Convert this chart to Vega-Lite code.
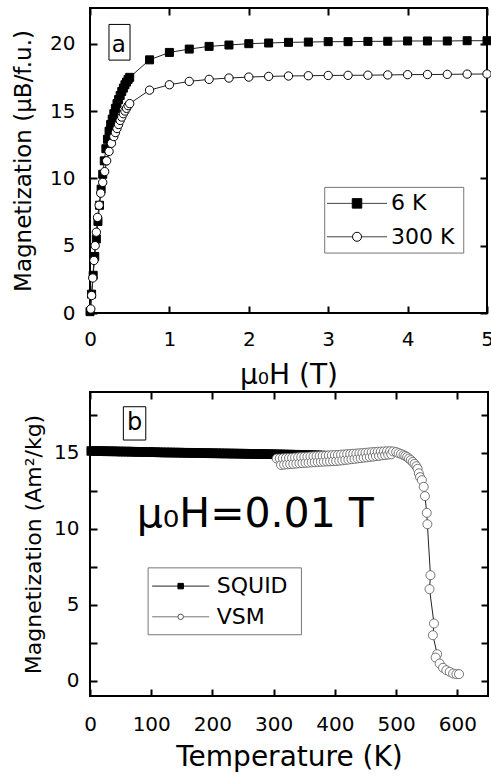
{
"$schema": "https://vega.github.io/schema/vega-lite/v6.json",
"padding": {"left": 11, "top": 7, "right": 0, "bottom": 0},
"spacing": 1,
"config": {
  "font": "DejaVu Sans",
  "view": {"stroke": "black", "strokeWidth": 2},
  "axis": {"labelColor": "black", "titleColor": "black", "labelFont": "DejaVu Sans", "titleFont": "DejaVu Sans", "titleFontWeight": "normal", "labelOverlap": false, "labelFlush": false}
},
"datasets": {
  "top": [
    {"series":"6 K","H":0.0,"M":0.1},{"series":"6 K","H":0.02,"M":1.4},{"series":"6 K","H":0.04,"M":2.8},{"series":"6 K","H":0.06,"M":4.2},{"series":"6 K","H":0.08,"M":5.5},{"series":"6 K","H":0.10,"M":6.8},{"series":"6 K","H":0.12,"M":8.0},{"series":"6 K","H":0.14,"M":9.2},{"series":"6 K","H":0.16,"M":10.3},{"series":"6 K","H":0.18,"M":11.3},{"series":"6 K","H":0.20,"M":12.2},{"series":"6 K","H":0.22,"M":12.9},{"series":"6 K","H":0.24,"M":13.5},{"series":"6 K","H":0.26,"M":14.0},{"series":"6 K","H":0.28,"M":14.4},{"series":"6 K","H":0.30,"M":14.8},{"series":"6 K","H":0.32,"M":15.2},{"series":"6 K","H":0.34,"M":15.55},{"series":"6 K","H":0.36,"M":15.85},{"series":"6 K","H":0.38,"M":16.15},{"series":"6 K","H":0.40,"M":16.45},{"series":"6 K","H":0.42,"M":16.7},{"series":"6 K","H":0.44,"M":16.95},{"series":"6 K","H":0.46,"M":17.15},{"series":"6 K","H":0.48,"M":17.35},{"series":"6 K","H":0.50,"M":17.5},{"series":"6 K","H":0.75,"M":18.8},{"series":"6 K","H":1.0,"M":19.35},{"series":"6 K","H":1.25,"M":19.6},{"series":"6 K","H":1.5,"M":19.8},{"series":"6 K","H":1.75,"M":19.9},{"series":"6 K","H":2.0,"M":20.0},{"series":"6 K","H":2.25,"M":20.05},{"series":"6 K","H":2.5,"M":20.1},{"series":"6 K","H":2.75,"M":20.12},{"series":"6 K","H":3.0,"M":20.15},{"series":"6 K","H":3.25,"M":20.15},{"series":"6 K","H":3.5,"M":20.17},{"series":"6 K","H":3.75,"M":20.18},{"series":"6 K","H":4.0,"M":20.2},{"series":"6 K","H":4.25,"M":20.2},{"series":"6 K","H":4.5,"M":20.2},{"series":"6 K","H":4.75,"M":20.22},{"series":"6 K","H":5.0,"M":20.22},
    {"series":"300 K","H":0.01,"M":0.3},{"series":"300 K","H":0.02,"M":1.3},{"series":"300 K","H":0.035,"M":2.6},{"series":"300 K","H":0.05,"M":3.9},{"series":"300 K","H":0.065,"M":5.0},{"series":"300 K","H":0.08,"M":6.0},{"series":"300 K","H":0.095,"M":7.1},{"series":"300 K","H":0.115,"M":8.0},{"series":"300 K","H":0.135,"M":8.9},{"series":"300 K","H":0.16,"M":9.7},{"series":"300 K","H":0.185,"M":10.5},{"series":"300 K","H":0.21,"M":11.3},{"series":"300 K","H":0.24,"M":12.0},{"series":"300 K","H":0.27,"M":12.6},{"series":"300 K","H":0.30,"M":13.1},{"series":"300 K","H":0.32,"M":13.4},{"series":"300 K","H":0.34,"M":13.7},{"series":"300 K","H":0.36,"M":14.0},{"series":"300 K","H":0.38,"M":14.3},{"series":"300 K","H":0.40,"M":14.55},{"series":"300 K","H":0.42,"M":14.8},{"series":"300 K","H":0.44,"M":15.0},{"series":"300 K","H":0.46,"M":15.2},{"series":"300 K","H":0.48,"M":15.4},{"series":"300 K","H":0.50,"M":15.55},{"series":"300 K","H":0.75,"M":16.55},{"series":"300 K","H":1.0,"M":16.95},{"series":"300 K","H":1.25,"M":17.2},{"series":"300 K","H":1.5,"M":17.35},{"series":"300 K","H":1.75,"M":17.45},{"series":"300 K","H":2.0,"M":17.52},{"series":"300 K","H":2.25,"M":17.57},{"series":"300 K","H":2.5,"M":17.6},{"series":"300 K","H":2.75,"M":17.62},{"series":"300 K","H":3.0,"M":17.64},{"series":"300 K","H":3.25,"M":17.65},{"series":"300 K","H":3.5,"M":17.66},{"series":"300 K","H":3.75,"M":17.68},{"series":"300 K","H":4.0,"M":17.7},{"series":"300 K","H":4.25,"M":17.71},{"series":"300 K","H":4.5,"M":17.72},{"series":"300 K","H":4.75,"M":17.74},{"series":"300 K","H":5.0,"M":17.75}
  ],
  "bot": [
    {"series":"SQUID","T":2,"M":15.12},{"series":"SQUID","T":7,"M":15.12},{"series":"SQUID","T":12,"M":15.11},{"series":"SQUID","T":17,"M":15.11},{"series":"SQUID","T":22,"M":15.11},{"series":"SQUID","T":27,"M":15.10},{"series":"SQUID","T":32,"M":15.10},{"series":"SQUID","T":37,"M":15.10},{"series":"SQUID","T":42,"M":15.09},{"series":"SQUID","T":47,"M":15.09},{"series":"SQUID","T":52,"M":15.08},{"series":"SQUID","T":57,"M":15.08},{"series":"SQUID","T":62,"M":15.08},{"series":"SQUID","T":67,"M":15.07},{"series":"SQUID","T":72,"M":15.07},{"series":"SQUID","T":77,"M":15.06},{"series":"SQUID","T":82,"M":15.06},{"series":"SQUID","T":87,"M":15.06},{"series":"SQUID","T":92,"M":15.05},{"series":"SQUID","T":97,"M":15.05},{"series":"SQUID","T":102,"M":15.04},{"series":"SQUID","T":107,"M":15.04},{"series":"SQUID","T":112,"M":15.03},{"series":"SQUID","T":117,"M":15.03},{"series":"SQUID","T":122,"M":15.02},{"series":"SQUID","T":127,"M":15.02},{"series":"SQUID","T":132,"M":15.02},{"series":"SQUID","T":137,"M":15.01},{"series":"SQUID","T":142,"M":15.01},{"series":"SQUID","T":147,"M":15.01},{"series":"SQUID","T":152,"M":15.00},{"series":"SQUID","T":157,"M":15.00},{"series":"SQUID","T":162,"M":15.00},{"series":"SQUID","T":167,"M":14.99},{"series":"SQUID","T":172,"M":14.99},{"series":"SQUID","T":177,"M":14.99},{"series":"SQUID","T":182,"M":14.98},{"series":"SQUID","T":187,"M":14.98},{"series":"SQUID","T":192,"M":14.98},{"series":"SQUID","T":197,"M":14.97},{"series":"SQUID","T":202,"M":14.97},{"series":"SQUID","T":207,"M":14.97},{"series":"SQUID","T":212,"M":14.96},{"series":"SQUID","T":217,"M":14.96},{"series":"SQUID","T":222,"M":14.96},{"series":"SQUID","T":227,"M":14.95},{"series":"SQUID","T":232,"M":14.95},{"series":"SQUID","T":237,"M":14.95},{"series":"SQUID","T":242,"M":14.94},{"series":"SQUID","T":247,"M":14.94},{"series":"SQUID","T":252,"M":14.94},{"series":"SQUID","T":257,"M":14.93},{"series":"SQUID","T":262,"M":14.93},{"series":"SQUID","T":267,"M":14.93},{"series":"SQUID","T":272,"M":14.92},{"series":"SQUID","T":277,"M":14.92},{"series":"SQUID","T":282,"M":14.92},{"series":"SQUID","T":287,"M":14.91},{"series":"SQUID","T":292,"M":14.91},{"series":"SQUID","T":297,"M":14.91},{"series":"SQUID","T":302,"M":14.90},{"series":"SQUID","T":307,"M":14.90},{"series":"SQUID","T":312,"M":14.89},{"series":"SQUID","T":317,"M":14.89},{"series":"SQUID","T":322,"M":14.88},{"series":"SQUID","T":327,"M":14.88},{"series":"SQUID","T":332,"M":14.87},{"series":"SQUID","T":337,"M":14.87},{"series":"SQUID","T":342,"M":14.86},{"series":"SQUID","T":347,"M":14.86},{"series":"SQUID","T":352,"M":14.85},{"series":"SQUID","T":357,"M":14.85},{"series":"SQUID","T":362,"M":14.84},{"series":"SQUID","T":367,"M":14.84},{"series":"SQUID","T":372,"M":14.83},{"series":"SQUID","T":377,"M":14.82},{"series":"SQUID","T":382,"M":14.81},
    {"series":"VSM","T":305,"M":14.62},{"series":"VSM","T":310,"M":14.63},{"series":"VSM","T":312,"M":14.20},{"series":"VSM","T":315,"M":14.64},{"series":"VSM","T":317,"M":14.22},{"series":"VSM","T":320,"M":14.65},{"series":"VSM","T":322,"M":14.24},{"series":"VSM","T":325,"M":14.66},{"series":"VSM","T":327,"M":14.26},{"series":"VSM","T":330,"M":14.67},{"series":"VSM","T":332,"M":14.27},{"series":"VSM","T":335,"M":14.69},{"series":"VSM","T":337,"M":14.29},{"series":"VSM","T":340,"M":14.70},{"series":"VSM","T":342,"M":14.31},{"series":"VSM","T":345,"M":14.72},{"series":"VSM","T":347,"M":14.32},{"series":"VSM","T":350,"M":14.73},{"series":"VSM","T":352,"M":14.34},{"series":"VSM","T":355,"M":14.74},{"series":"VSM","T":357,"M":14.35},{"series":"VSM","T":360,"M":14.76},{"series":"VSM","T":362,"M":14.37},{"series":"VSM","T":365,"M":14.77},{"series":"VSM","T":367,"M":14.38},{"series":"VSM","T":370,"M":14.78},{"series":"VSM","T":372,"M":14.40},{"series":"VSM","T":375,"M":14.79},{"series":"VSM","T":377,"M":14.41},{"series":"VSM","T":380,"M":14.80},{"series":"VSM","T":382,"M":14.42},{"series":"VSM","T":385,"M":14.81},{"series":"VSM","T":387,"M":14.43},{"series":"VSM","T":390,"M":14.83},{"series":"VSM","T":392,"M":14.44},{"series":"VSM","T":395,"M":14.84},{"series":"VSM","T":397,"M":14.45},{"series":"VSM","T":400,"M":14.85},{"series":"VSM","T":402,"M":14.46},{"series":"VSM","T":405,"M":14.86},{"series":"VSM","T":407,"M":14.48},{"series":"VSM","T":410,"M":14.88},{"series":"VSM","T":412,"M":14.50},{"series":"VSM","T":415,"M":14.89},{"series":"VSM","T":417,"M":14.53},{"series":"VSM","T":420,"M":14.91},{"series":"VSM","T":422,"M":14.55},{"series":"VSM","T":425,"M":14.92},{"series":"VSM","T":427,"M":14.58},{"series":"VSM","T":430,"M":14.94},{"series":"VSM","T":432,"M":14.60},{"series":"VSM","T":435,"M":14.95},{"series":"VSM","T":437,"M":14.63},{"series":"VSM","T":440,"M":14.97},{"series":"VSM","T":442,"M":14.65},{"series":"VSM","T":445,"M":14.98},{"series":"VSM","T":447,"M":14.68},{"series":"VSM","T":450,"M":15.00},{"series":"VSM","T":452,"M":14.70},{"series":"VSM","T":455,"M":15.02},{"series":"VSM","T":457,"M":14.73},{"series":"VSM","T":460,"M":15.04},{"series":"VSM","T":462,"M":14.75},{"series":"VSM","T":465,"M":15.05},{"series":"VSM","T":467,"M":14.78},{"series":"VSM","T":470,"M":15.07},{"series":"VSM","T":472,"M":14.80},{"series":"VSM","T":475,"M":15.08},{"series":"VSM","T":477,"M":14.83},{"series":"VSM","T":480,"M":15.09},{"series":"VSM","T":482,"M":14.85},{"series":"VSM","T":485,"M":15.10},{"series":"VSM","T":487,"M":14.88},{"series":"VSM","T":490,"M":15.10},{"series":"VSM","T":492,"M":14.90},{"series":"VSM","T":495,"M":15.09},
    {"series":"VSM","T":500,"M":15.05},{"series":"VSM","T":504,"M":14.98},{"series":"VSM","T":508,"M":14.92},{"series":"VSM","T":512,"M":14.85},{"series":"VSM","T":515,"M":14.79},{"series":"VSM","T":518,"M":14.72},{"series":"VSM","T":521,"M":14.62},{"series":"VSM","T":524,"M":14.52},{"series":"VSM","T":527,"M":14.40},{"series":"VSM","T":530,"M":14.27},{"series":"VSM","T":533,"M":14.12},{"series":"VSM","T":535,"M":13.95},{"series":"VSM","T":537,"M":13.65},{"series":"VSM","T":539,"M":13.4},{"series":"VSM","T":542,"M":13.2},{"series":"VSM","T":545,"M":12.76},{"series":"VSM","T":547,"M":12.15},{"series":"VSM","T":550,"M":11.05},{"series":"VSM","T":551,"M":10.3},{"series":"VSM","T":556,"M":6.95},{"series":"VSM","T":554.5,"M":6.03},{"series":"VSM","T":561.8,"M":3.77},{"series":"VSM","T":560,"M":3.0},{"series":"VSM","T":567,"M":1.75},{"series":"VSM","T":564.5,"M":1.53},{"series":"VSM","T":571,"M":1.14},{"series":"VSM","T":576.5,"M":0.86},{"series":"VSM","T":582,"M":0.7},{"series":"VSM","T":587.5,"M":0.59},{"series":"VSM","T":593,"M":0.48},{"series":"VSM","T":598.4,"M":0.44},{"series":"VSM","T":602.7,"M":0.44}
  ]
},
"vconcat": [
  {
    "width": 397, "height": 305,
    "data": {"name": "top"},
    "layer": [
      {
        "mark": {"type": "line", "color": "#222", "strokeWidth": 1},
        "encoding": {
          "x": {"field": "H", "type": "quantitative", "scale": {"domain": [0, 5], "nice": false, "zero": false},
                "axis": {"orient": "bottom", "values": [0,0.5,1,1.5,2,2.5,3,3.5,4,4.5,5], "labelExpr": "datum.value % 1 === 0 ? '' + datum.value : ''", "title": "μ₀H (T)", "ticks": false, "domain": false, "grid": true, "gridColor": "black", "gridOpacity": 1, "gridWidth": 2, "gridDash": [7, 291, 7], "labelPadding": 16, "labelFontSize": 20, "titleFontSize": 28, "titlePadding": 12}},
          "y": {"field": "M", "type": "quantitative", "scale": {"domain": [0, 22.65], "nice": false, "zero": false},
                "axis": {"orient": "left", "values": [0,2.5,5,7.5,10,12.5,15,17.5,20], "labelExpr": "datum.value % 5 === 0 ? '' + datum.value : ''", "title": "Magnetization (μB/f.u.)", "ticks": false, "domain": false, "grid": true, "gridColor": "black", "gridOpacity": 1, "gridWidth": 2, "gridDash": [7, 383, 7], "labelPadding": 15, "labelFontSize": 20, "titleFontSize": 23, "titlePadding": 14}},
          "detail": {"field": "series"},
          "order": {"value": null}
        }
      },
      {
        "mark": {"type": "point", "stroke": "black", "strokeWidth": 1, "opacity": 1},
        "encoding": {
          "x": {"field": "H", "type": "quantitative"},
          "y": {"field": "M", "type": "quantitative"},
          "shape": {"field": "series", "type": "nominal", "scale": {"domain": ["6 K", "300 K", "SQUID", "VSM"], "range": ["square", "circle", "square", "circle"]}, "legend": null},
          "fill": {"field": "series", "type": "nominal", "scale": {"domain": ["6 K", "300 K", "SQUID", "VSM"], "range": ["black", "white", "black", "white"]}, "legend": null},
          "size": {"field": "series", "type": "nominal", "scale": {"domain": ["6 K", "300 K", "SQUID", "VSM"], "range": [64, 81, 36, 28]}, "legend": null}
        }
      },
      {
        "data": {"values": [{}]},
        "mark": {"type": "rect", "fill": "white", "fillOpacity": 0, "stroke": "black", "strokeWidth": 1},
        "encoding": {
          "x": {"datum": 0.239, "type": "quantitative"}, "x2": {"datum": 0.504},
          "y": {"datum": 18.78, "type": "quantitative"}, "y2": {"datum": 21.43}
        }
      },
      {
        "data": {"values": [{}]},
        "mark": {"type": "text", "text": "a", "font": "DejaVu Sans", "fontSize": 23, "align": "center", "baseline": "alphabetic", "color": "black"},
        "encoding": {"x": {"datum": 0.363, "type": "quantitative"}, "y": {"datum": 19.35, "type": "quantitative"}}
      },
      {
        "data": {"values": [{}]},
        "mark": {"type": "rect", "fill": "white", "stroke": "#777", "strokeWidth": 1},
        "encoding": {
          "x": {"datum": 2.956, "type": "quantitative"}, "x2": {"datum": 4.707},
          "y": {"datum": 4.45, "type": "quantitative"}, "y2": {"datum": 9.33}
        }
      },
      {
        "data": {"values": [{}]},
        "mark": {"type": "rule", "color": "#444", "strokeWidth": 1},
        "encoding": {"x": {"datum": 2.985, "type": "quantitative"}, "x2": {"datum": 3.741}, "y": {"datum": 8.14, "type": "quantitative"}}
      },
      {
        "data": {"values": [{}]},
        "mark": {"type": "rule", "color": "#444", "strokeWidth": 1},
        "encoding": {"x": {"datum": 2.985, "type": "quantitative"}, "x2": {"datum": 3.741}, "y": {"datum": 5.66, "type": "quantitative"}}
      },
      {
        "data": {"values": [{}]},
        "mark": {"type": "point", "shape": "square", "filled": true, "fill": "black", "stroke": "black", "strokeWidth": 1, "size": 90, "opacity": 1},
        "encoding": {"x": {"datum": 3.363, "type": "quantitative"}, "y": {"datum": 8.14, "type": "quantitative"}}
      },
      {
        "data": {"values": [{}]},
        "mark": {"type": "point", "shape": "circle", "filled": true, "fill": "white", "stroke": "black", "strokeWidth": 1, "size": 81, "opacity": 1},
        "encoding": {"x": {"datum": 3.363, "type": "quantitative"}, "y": {"datum": 5.66, "type": "quantitative"}}
      },
      {
        "data": {"values": [{}]},
        "mark": {"type": "text", "text": "6 K", "font": "DejaVu Sans", "fontSize": 22, "align": "left", "baseline": "middle", "color": "black"},
        "encoding": {"x": {"datum": 3.79, "type": "quantitative"}, "y": {"datum": 8.14, "type": "quantitative"}}
      },
      {
        "data": {"values": [{}]},
        "mark": {"type": "text", "text": "300 K", "font": "DejaVu Sans", "fontSize": 22, "align": "left", "baseline": "middle", "color": "black"},
        "encoding": {"x": {"datum": 3.79, "type": "quantitative"}, "y": {"datum": 5.66, "type": "quantitative"}}
      }
    ]
  },
  {
    "width": 398, "height": 304,
    "data": {"name": "bot"},
    "layer": [
      {
        "mark": {"type": "line", "color": "#222", "strokeWidth": 1},
        "encoding": {
          "x": {"field": "T", "type": "quantitative", "scale": {"domain": [0, 650], "nice": false, "zero": false},
                "axis": {"orient": "bottom", "values": [0,50,100,150,200,250,300,350,400,450,500,550,600], "labelExpr": "datum.value % 100 === 0 ? '' + datum.value : ''", "title": "Temperature (K)", "ticks": false, "domain": false, "grid": true, "gridColor": "black", "gridOpacity": 1, "gridWidth": 2, "gridDash": [7, 290, 7], "labelPadding": 18, "labelFontSize": 20, "titleFontSize": 28, "titlePadding": 9}},
          "y": {"field": "M", "type": "quantitative", "scale": {"domain": [-1, 19], "nice": false, "zero": false},
                "axis": {"orient": "left", "values": [0,2.5,5,7.5,10,12.5,15,17.5], "labelExpr": "datum.value % 5 === 0 ? '' + datum.value : ''", "title": "Magnetization (Am²/kg)", "ticks": false, "domain": false, "grid": true, "gridColor": "black", "gridOpacity": 1, "gridWidth": 2, "gridDash": [7, 384, 7], "labelPadding": 11, "labelFontSize": 20, "titleFontSize": 22, "titlePadding": 8}},
          "detail": {"field": "series"},
          "order": {"value": null}
        }
      },
      {
        "mark": {"type": "point", "strokeWidth": 0.8, "opacity": 1},
        "encoding": {
          "x": {"field": "T", "type": "quantitative"},
          "y": {"field": "M", "type": "quantitative"},
          "shape": {"field": "series", "type": "nominal", "scale": {"domain": ["6 K", "300 K", "SQUID", "VSM"], "range": ["square", "circle", "square", "circle"]}, "legend": null},
          "fill": {"field": "series", "type": "nominal", "scale": {"domain": ["6 K", "300 K", "SQUID", "VSM"], "range": ["black", "white", "black", "white"]}, "legend": null},
          "stroke": {"field": "series", "type": "nominal", "scale": {"domain": ["SQUID", "VSM"], "range": ["black", "#555"]}, "legend": null},
          "size": {"field": "series", "type": "nominal", "scale": {"domain": ["6 K", "300 K", "SQUID", "VSM"], "range": [64, 81, 36, 28]}, "legend": null}
        }
      },
      {
        "data": {"values": [{}]},
        "mark": {"type": "rect", "fill": "white", "fillOpacity": 0, "stroke": "black", "strokeWidth": 1},
        "encoding": {
          "x": {"datum": 54.5, "type": "quantitative"}, "x2": {"datum": 91.1},
          "y": {"datum": 15.84, "type": "quantitative"}, "y2": {"datum": 18.03}
        }
      },
      {
        "data": {"values": [{}]},
        "mark": {"type": "text", "text": "b", "font": "DejaVu Sans", "fontSize": 24, "align": "center", "baseline": "alphabetic", "color": "black"},
        "encoding": {"x": {"datum": 72.8, "type": "quantitative"}, "y": {"datum": 16.49, "type": "quantitative"}}
      },
      {
        "data": {"values": [{}]},
        "mark": {"type": "text", "text": "μ₀H=0.01 T", "font": "DejaVu Sans", "fontSize": 41, "align": "left", "baseline": "alphabetic", "color": "black"},
        "encoding": {"x": {"datum": 76.4, "type": "quantitative"}, "y": {"datum": 10.13, "type": "quantitative"}}
      },
      {
        "data": {"values": [{}]},
        "mark": {"type": "rect", "fill": "white", "stroke": "#777", "strokeWidth": 1},
        "encoding": {
          "x": {"datum": 94.9, "type": "quantitative"}, "x2": {"datum": 345.3},
          "y": {"datum": 3.03, "type": "quantitative"}, "y2": {"datum": 7.43}
        }
      },
      {
        "data": {"values": [{}]},
        "mark": {"type": "rule", "color": "#222", "strokeWidth": 1},
        "encoding": {"x": {"datum": 101.5, "type": "quantitative"}, "x2": {"datum": 194.7}, "y": {"datum": 6.23, "type": "quantitative"}}
      },
      {
        "data": {"values": [{}]},
        "mark": {"type": "rule", "color": "#777", "strokeWidth": 1},
        "encoding": {"x": {"datum": 101.5, "type": "quantitative"}, "x2": {"datum": 194.7}, "y": {"datum": 4.21, "type": "quantitative"}}
      },
      {
        "data": {"values": [{}]},
        "mark": {"type": "point", "shape": "square", "filled": true, "fill": "black", "stroke": "black", "strokeWidth": 1, "size": 30, "opacity": 1},
        "encoding": {"x": {"datum": 148.1, "type": "quantitative"}, "y": {"datum": 6.23, "type": "quantitative"}}
      },
      {
        "data": {"values": [{}]},
        "mark": {"type": "point", "shape": "circle", "filled": true, "fill": "white", "stroke": "#555", "strokeWidth": 1, "size": 30, "opacity": 1},
        "encoding": {"x": {"datum": 148.1, "type": "quantitative"}, "y": {"datum": 4.21, "type": "quantitative"}}
      },
      {
        "data": {"values": [{}]},
        "mark": {"type": "text", "text": "SQUID", "font": "DejaVu Sans", "fontSize": 22, "align": "left", "baseline": "middle", "color": "black"},
        "encoding": {"x": {"datum": 207, "type": "quantitative"}, "y": {"datum": 6.23, "type": "quantitative"}}
      },
      {
        "data": {"values": [{}]},
        "mark": {"type": "text", "text": "VSM", "font": "DejaVu Sans", "fontSize": 22, "align": "left", "baseline": "middle", "color": "black"},
        "encoding": {"x": {"datum": 207, "type": "quantitative"}, "y": {"datum": 4.21, "type": "quantitative"}}
      }
    ]
  }
]
}
